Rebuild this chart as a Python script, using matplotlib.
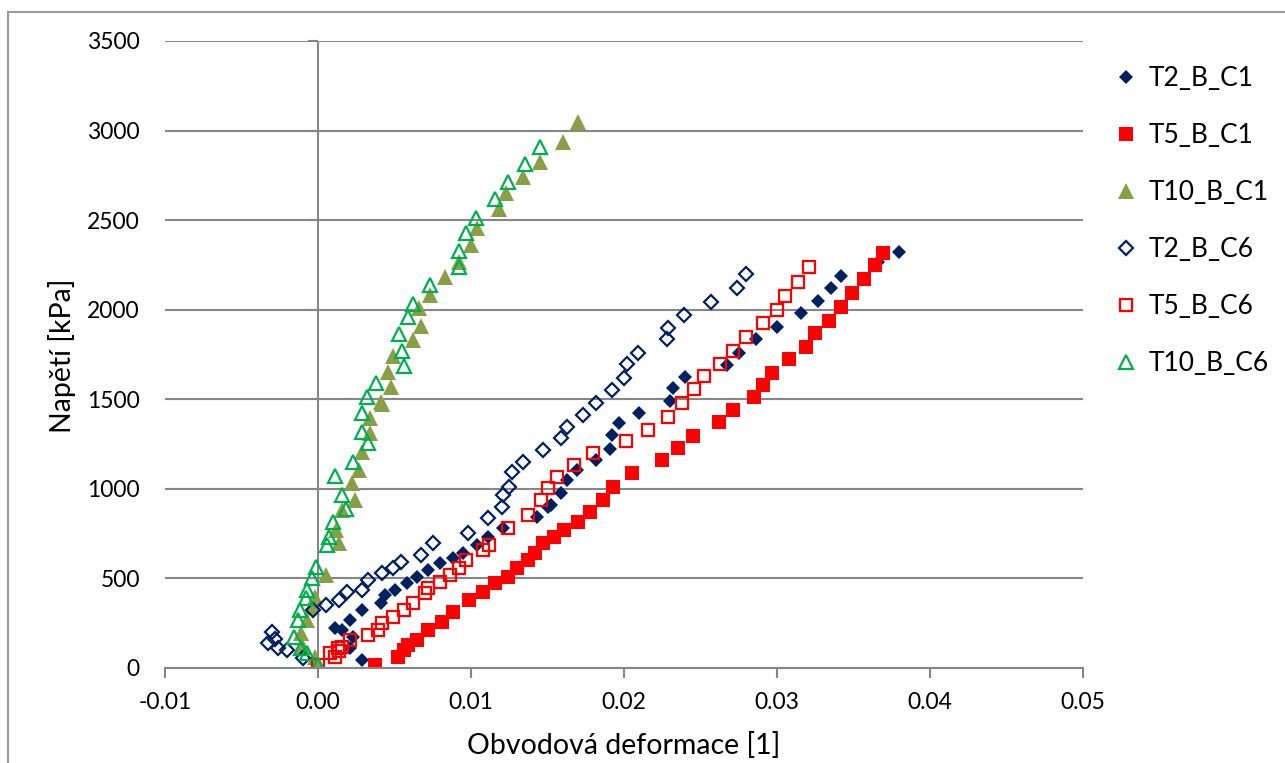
import numpy as np
import matplotlib
matplotlib.use("Agg")
import matplotlib.pyplot as plt
from matplotlib.lines import Line2D

plt.rcParams['font.family'] = ['Lato', 'DejaVu Sans']

# Data (strain [1], stress [kPa])
t2_c1_x = [0.0029, 0.0021, 0.0023, 0.0011, 0.0016, 0.0021, 0.0029, 0.0041, 0.0044, 0.0050,
           0.0058, 0.0065, 0.0072, 0.0080, 0.0088, 0.0095, 0.0104, 0.0111, 0.0121, 0.0143,
           0.0150, 0.0152, 0.0159, 0.0163, 0.0169, 0.0182, 0.0191, 0.0192, 0.0197, 0.0210,
           0.0230, 0.0232, 0.0240, 0.0267, 0.0275, 0.0286, 0.0300, 0.0316, 0.0327, 0.0335,
           0.0342, 0.0366, 0.0380]
t2_c1_y = [45, 112, 173, 223, 212, 268, 324, 363, 408, 436,
           474, 508, 547, 586, 614, 642, 687, 731, 782, 843,
           899, 910, 977, 1049, 1105, 1161, 1222, 1301, 1368, 1424,
           1491, 1563, 1625, 1692, 1758, 1836, 1904, 1982, 2049, 2121,
           2188, 2265, 2320]

t5_c1_x = [0.0037, 0.0052, 0.0056, 0.0059, 0.0065, 0.0072, 0.0081, 0.0088, 0.0099, 0.0108,
           0.0116, 0.0124, 0.0130, 0.0137, 0.0142, 0.0147, 0.0154, 0.0161, 0.0170, 0.0178,
           0.0186, 0.0193, 0.0205, 0.0225, 0.0235, 0.0245, 0.0262, 0.0271, 0.0285, 0.0291,
           0.0297, 0.0308, 0.0319, 0.0325, 0.0334, 0.0342, 0.0349, 0.0357, 0.0364, 0.0369]
t5_c1_y = [17, 61, 100, 128, 156, 212, 257, 313, 380, 424,
           474, 508, 558, 603, 642, 698, 731, 771, 815, 871,
           938, 1010, 1088, 1161, 1228, 1295, 1373, 1440, 1513, 1580,
           1647, 1725, 1792, 1870, 1937, 2015, 2093, 2171, 2249, 2316]

t10_c1_x = [0.0000, -0.0002, -0.0010, -0.0011, -0.0007, -0.0004, -0.0002, 0.0005, 0.0014, 0.0012,
            0.0016, 0.0024, 0.0022, 0.0027, 0.0029, 0.0034, 0.0034, 0.0042, 0.0041, 0.0048,
            0.0046, 0.0049, 0.0062, 0.0067, 0.0066, 0.0073, 0.0083, 0.0092, 0.0100, 0.0104,
            0.0118, 0.0123, 0.0134, 0.0145, 0.0160, 0.0170]
t10_c1_y = [17, 61, 117, 195, 268, 341, 396, 519, 698, 770,
            882, 938, 1033, 1105, 1206, 1312, 1396, 1474, 1485, 1569,
            1652, 1742, 1831, 1909, 2010, 2082, 2183, 2266, 2361, 2456,
            2562, 2652, 2741, 2825, 2937, 3048]

t2_c6_x = [-0.0010, -0.0020, -0.0026, -0.0033, -0.0030, -0.0028, -0.0003, 0.0005, 0.0014, 0.0019,
           0.0029, 0.0033, 0.0042, 0.0049, 0.0054, 0.0067, 0.0075, 0.0098, 0.0111, 0.0120,
           0.0121, 0.0125, 0.0127, 0.0134, 0.0147, 0.0159, 0.0163, 0.0173, 0.0182, 0.0192,
           0.0200, 0.0202, 0.0209, 0.0228, 0.0229, 0.0239, 0.0257, 0.0274, 0.0280]
t2_c6_y = [56, 100, 112, 140, 201, 160, 324, 352, 380, 424,
           436, 491, 530, 558, 592, 631, 698, 754, 837, 899,
           966, 1010, 1094, 1150, 1217, 1284, 1345, 1412, 1479, 1552,
           1619, 1697, 1758, 1836, 1898, 1971, 2043, 2121, 2199]

t5_c6_x = [0.0000, 0.0008, 0.0011, 0.0013, 0.0016, 0.0014, 0.0021, 0.0033, 0.0039, 0.0042,
           0.0049, 0.0056, 0.0062, 0.0070, 0.0072, 0.0080, 0.0086, 0.0092, 0.0097, 0.0108,
           0.0112, 0.0124, 0.0137, 0.0146, 0.0150, 0.0156, 0.0167, 0.0180, 0.0201, 0.0216,
           0.0229, 0.0238, 0.0246, 0.0252, 0.0263, 0.0271, 0.0280, 0.0291, 0.0300, 0.0305,
           0.0314, 0.0321]
t5_c6_y = [17, 84, 60, 112, 117, 95, 156, 184, 212, 251,
           285, 324, 363, 419, 447, 480, 519, 558, 603, 659,
           687, 782, 854, 938, 1004, 1066, 1133, 1200, 1267, 1329,
           1401, 1479, 1557, 1630, 1697, 1770, 1848, 1926, 1998, 2076,
           2155, 2238]

t10_c6_x = [0.0000, -0.0007, -0.0011, -0.0016, -0.0013, -0.0012, -0.0008, -0.0007, -0.0004, -0.0001,
            0.0006, 0.0007, 0.0010, 0.0018, 0.0016, 0.0011, 0.0023, 0.0033, 0.0029, 0.0029,
            0.0032, 0.0038, 0.0056, 0.0055, 0.0053, 0.0059, 0.0062, 0.0073, 0.0092, 0.0092,
            0.0097, 0.0103, 0.0116, 0.0124, 0.0135, 0.0145]
t10_c6_y = [17, 84, 112, 173, 268, 324, 391, 436, 502, 564,
            687, 731, 815, 888, 966, 1072, 1150, 1256, 1317, 1423,
            1513, 1591, 1686, 1770, 1864, 1959, 2032, 2138, 2238, 2328,
            2428, 2512, 2618, 2713, 2814, 2908]

navy = '#002060'
red = '#FF0000'
olive = '#8A9E48'
green = '#00B050'
grid_c = '#868686'

W, H = 1285, 763
fig = plt.figure(figsize=(W / 100, H / 100), dpi=100)
ax = fig.add_axes([165 / W, (H - 668) / H, (1083 - 165) / W, (668 - 41) / H])

# series, drawn in legend order
ax.plot(t2_c1_x, t2_c1_y, 'D', color=navy, ms=7.5, mew=0, label='T2_B_C1')
ax.plot(t5_c1_x, t5_c1_y, 's', color=red, ms=9.5, mew=0, label='T5_B_C1')
ax.plot(t10_c1_x, t10_c1_y, '^', color=olive, ms=11, mew=0, label='T10_B_C1')
ax.plot(t2_c6_x, t2_c6_y, 'D', mfc='none', mec=navy, ms=7, mew=1.6, label='T2_B_C6')
ax.plot(t5_c6_x, t5_c6_y, 's', mfc='none', mec=red, ms=9, mew=1.6, label='T5_B_C6')
ax.plot(t10_c6_x, t10_c6_y, '^', mfc='none', mec=green, ms=10, mew=1.6, label='T10_B_C6')

ax.set_xlim(-0.01, 0.05)
ax.set_ylim(0, 3500)
ax.set_xticks(np.arange(-0.01, 0.0501, 0.01))
ax.set_xticklabels(['-0.01', '0.00', '0.01', '0.02', '0.03', '0.04', '0.05'])
ax.set_yticks(np.arange(0, 3501, 500))

ax.grid(axis='y', color=grid_c, lw=1.5)
ax.set_axisbelow(True)
for s in ['top', 'right', 'left']:
    ax.spines[s].set_visible(False)
ax.spines['bottom'].set_color(grid_c)
ax.spines['bottom'].set_linewidth(1.5)
ax.tick_params(axis='x', direction='out', length=7, width=1.5, color=grid_c,
               labelsize=16.5, pad=10)
ax.tick_params(axis='y', length=0, labelsize=16.5, pad=18)

# vertical axis line crossing at x = 0
ax.axvline(0, color=grid_c, lw=1.5, zorder=0.5)
sec = ax.secondary_yaxis(1 / 6)
sec.set_yticks(np.arange(0, 3501, 500))
sec.set_yticklabels([])
sec.tick_params(length=7, width=1.5, color=grid_c)
sec.spines['left'].set_visible(False)

fig.text(624 / W, 1 - 746 / H, 'Obvodová deformace [1]', fontsize=20.5,
         ha='center', va='center')
fig.text(62 / W, 1 - 356 / H, 'Napětí [kPa]', fontsize=20.5, rotation=90,
         ha='center', va='center')

ax.legend(loc='upper left', bbox_to_anchor=(1102 / W, 1 - 53 / H),
          bbox_transform=fig.transFigure, frameon=False, fontsize=19,
          handlelength=0.8, handletextpad=0.45, labelspacing=1.21, borderpad=0)

# chart area border (left and top edges visible)
fig.add_artist(Line2D([8 / W, 8 / W], [0, 1 - 12 / H], color='#9a9a9a', lw=1.5))
fig.add_artist(Line2D([8 / W, 1], [1 - 12 / H, 1 - 12 / H], color='#9a9a9a', lw=1.5))

fig.savefig('out.png', dpi=100)
